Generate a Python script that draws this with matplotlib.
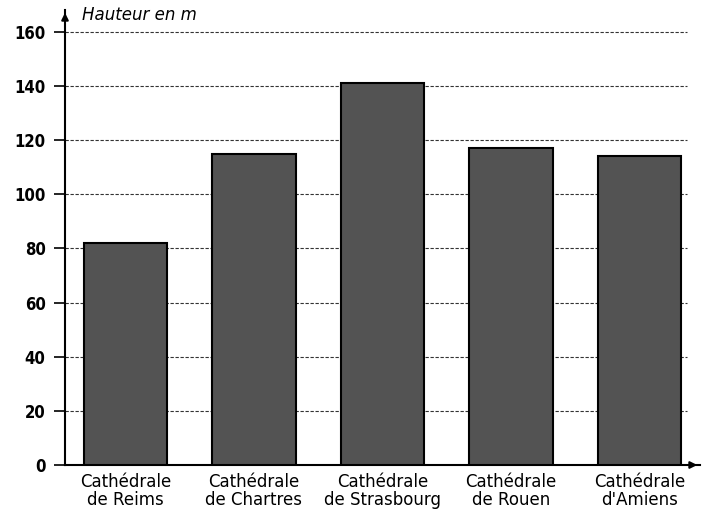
import matplotlib.pyplot as plt
import numpy as np

categories = ['Cathédrale\nde Reims', 'Cathédrale\nde Chartres', 'Cathédrale\nde Strasbourg',
              'Cathédrale\nde Rouen', "Cathédrale\nd'Amiens"]
heights = [82, 115, 141, 117, 114]
yticks = [0, 20, 40, 60, 80, 100, 120, 140, 160]

plt.rcParams['font.family'] = ['DejaVu Sans']

fig = plt.figure(figsize=(7.05, 5.13), dpi=100)
ax = fig.add_axes([65 / 705, 48 / 513, 635 / 705, (465 - 10) / 513])

x = np.arange(len(categories))
ax.bar(x, heights, width=0.65, color='#535353', edgecolor='black', linewidth=1.5, zorder=3)

ax.set_xlim(-0.47, 4.47)
ax.set_ylim(0, 168)
ax.set_yticks(yticks)
ax.set_yticklabels([str(v) for v in yticks], fontsize=12, fontweight='bold', fontstretch='condensed')
ax.set_xticks(x)
ax.set_xticklabels(categories, fontsize=12, linespacing=0.95)
ax.tick_params(axis='x', length=0, pad=6)
ax.tick_params(axis='y', direction='out', length=8, width=1.2, pad=6)

for v in yticks[1:]:
    ax.axhline(v, xmax=0.98, color='#333333', linestyle=(0, (3, 1.5)), linewidth=0.8, zorder=1)

for s in ['top', 'right']:
    ax.spines[s].set_visible(False)
ax.spines['left'].set_linewidth(1.5)
ax.spines['bottom'].set_linewidth(1.5)

# arrow heads on axes
ax.annotate('', xy=(0, 1.0), xycoords='axes fraction', xytext=(0, 0.97),
            arrowprops=dict(arrowstyle='-|>', color='black', lw=1.5, mutation_scale=10))
ax.annotate('', xy=(1.0, 0), xycoords='axes fraction', xytext=(0.98, 0),
            arrowprops=dict(arrowstyle='-|>', color='black', lw=1.5, mutation_scale=10))

ax.text(0.027, 0.99, 'Hauteur en m', transform=ax.transAxes, fontsize=12, fontstyle='italic',
        ha='left', va='center')

fig.savefig('out.png', dpi=100)
